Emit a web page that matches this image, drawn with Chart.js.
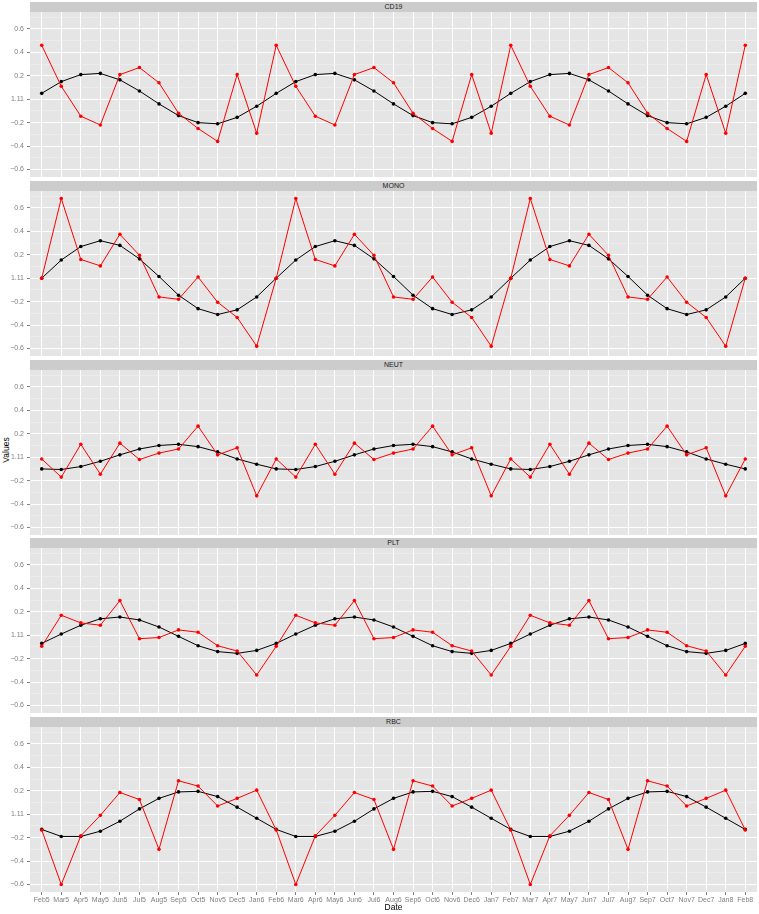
<!DOCTYPE html>
<html>
<head>
<meta charset="utf-8">
<script src="https://cdn.jsdelivr.net/npm/chart.js@4.4.1/dist/chart.umd.min.js"></script>
<style>
  html, body { margin: 0; padding: 0; background: #fff; }
  body { width: 759px; height: 914px; position: relative; overflow: hidden; font-family: "Liberation Sans", Arial, sans-serif; }
  .strip { position: absolute; left: 30px; width: 727px; height: 10.5px; background: #cccccc; color: #1a1a1a; font-size: 7px; line-height: 10.5px; text-align: center; }
  canvas { position: absolute; left: 0; }
  #ylab { position: absolute; left: 6px; top: 450px; transform: translate(-50%, -50%) rotate(-90deg); font-size: 8.5px; color: #000; white-space: nowrap; }
</style>
</head>
<body>
<div id="ylab">Values</div>

<script>
// x categories
const dates = ['Feb5','Mar5','Apr5','May5','Jun5','Jul5','Aug5','Sep5','Oct5','Nov5','Dec5','Jan6',
               'Feb6','Mar6','Apr6','May6','Jun6','Jul6','Aug6','Sep6','Oct6','Nov6','Dec6','Jan7',
               'Feb7','Mar7','Apr7','May7','Jun7','Jul7','Aug7','Sep7','Oct7','Nov7','Dec7','Jan8','Feb8'];

// y ticks (the 0 line is labelled "1.11" in the original)
const yMajorTicks = [-0.6, -0.4, -0.2, 0, 0.2, 0.4, 0.6];
const yMajorLabels = ['\u22120.6', '\u22120.4', '\u22120.2', '1.11', '0.2', '0.4', '0.6'];
const yMinorTicks = [-0.5, -0.3, -0.1, 0.1, 0.3, 0.5, 0.7];

const panelNames = ['CD19', 'MONO', 'NEUT', 'PLT', 'RBC'];

// red series
const cd19Red = [0.46,0.11,-0.145,-0.22,0.21,0.27,0.14,-0.12,-0.25,-0.36,0.21,-0.29,
                 0.46,0.11,-0.145,-0.22,0.21,0.27,0.14,-0.12,-0.25,-0.36,0.21,-0.29,
                 0.46,0.11,-0.145,-0.22,0.21,0.27,0.14,-0.12,-0.25,-0.36,0.21,-0.29,0.46];
const monoRed = [0,0.68,0.16,0.105,0.375,0.195,-0.16,-0.18,0.01,-0.205,-0.335,-0.58,
                 0,0.68,0.16,0.105,0.375,0.195,-0.16,-0.18,0.01,-0.205,-0.335,-0.58,
                 0,0.68,0.16,0.105,0.375,0.195,-0.16,-0.18,0.01,-0.205,-0.335,-0.58,0];
const neutRed = [-0.015,-0.17,0.11,-0.145,0.12,-0.02,0.035,0.07,0.265,0.02,0.08,-0.33,
                 -0.015,-0.17,0.11,-0.145,0.12,-0.02,0.035,0.07,0.265,0.02,0.08,-0.33,
                 -0.015,-0.17,0.11,-0.145,0.12,-0.02,0.035,0.07,0.265,0.02,0.08,-0.33,-0.015];
const pltRed = [-0.095,0.17,0.105,0.085,0.295,-0.03,-0.02,0.045,0.025,-0.09,-0.135,-0.34,
                -0.095,0.17,0.105,0.085,0.295,-0.03,-0.02,0.045,0.025,-0.09,-0.135,-0.34,
                -0.095,0.17,0.105,0.085,0.295,-0.03,-0.02,0.045,0.025,-0.09,-0.135,-0.34,-0.095];
const rbcRed = [-0.135,-0.6,-0.185,-0.01,0.185,0.125,-0.3,0.285,0.24,0.07,0.135,0.205,
                -0.135,-0.6,-0.185,-0.01,0.185,0.125,-0.3,0.285,0.24,0.07,0.135,0.205,
                -0.135,-0.6,-0.185,-0.01,0.185,0.125,-0.3,0.285,0.24,0.07,0.135,0.205,-0.135];

// black series
const cd19Black = [0.05,0.15,0.21,0.22,0.165,0.07,-0.04,-0.14,-0.2,-0.21,-0.155,-0.06,
                   0.05,0.15,0.21,0.22,0.165,0.07,-0.04,-0.14,-0.2,-0.21,-0.155,-0.06,
                   0.05,0.15,0.21,0.22,0.165,0.07,-0.04,-0.14,-0.2,-0.21,-0.155,-0.06,0.05];
const monoBlack = [0,0.155,0.27,0.32,0.28,0.165,0.015,-0.145,-0.26,-0.31,-0.27,-0.16,
                   0,0.155,0.27,0.32,0.28,0.165,0.015,-0.145,-0.26,-0.31,-0.27,-0.16,
                   0,0.155,0.27,0.32,0.28,0.165,0.015,-0.145,-0.26,-0.31,-0.27,-0.16,0];
const neutBlack = [-0.1,-0.105,-0.08,-0.035,0.02,0.07,0.1,0.11,0.09,0.045,-0.015,-0.06,
                   -0.1,-0.105,-0.08,-0.035,0.02,0.07,0.1,0.11,0.09,0.045,-0.015,-0.06,
                   -0.1,-0.105,-0.08,-0.035,0.02,0.07,0.1,0.11,0.09,0.045,-0.015,-0.06,-0.1];
const pltBlack = [-0.07,0.01,0.085,0.14,0.155,0.13,0.07,-0.01,-0.09,-0.14,-0.155,-0.13,
                  -0.07,0.01,0.085,0.14,0.155,0.13,0.07,-0.01,-0.09,-0.14,-0.155,-0.13,
                  -0.07,0.01,0.085,0.14,0.155,0.13,0.07,-0.01,-0.09,-0.14,-0.155,-0.13,-0.07];
const rbcBlack = [-0.13,-0.19,-0.19,-0.145,-0.06,0.045,0.135,0.19,0.195,0.15,0.06,-0.035,
                  -0.13,-0.19,-0.19,-0.145,-0.06,0.045,0.135,0.19,0.195,0.15,0.06,-0.035,
                  -0.13,-0.19,-0.19,-0.145,-0.06,0.045,0.135,0.19,0.195,0.15,0.06,-0.035,-0.13];

const redSeries = [cd19Red, monoRed, neutRed, pltRed, rbcRed];
const blackSeries = [cd19Black, monoBlack, neutBlack, pltBlack, rbcBlack];

const FONT = '"Liberation Sans", Arial, sans-serif';

// grey panel background
const panelBg = {
    id: 'panelBg',
    beforeDraw(chart) {
        const { ctx, chartArea: a } = chart;
        ctx.save();
        ctx.fillStyle = '#e5e5e5';
        ctx.fillRect(a.left, a.top, a.right - a.left, a.bottom - a.top);
        ctx.restore();
    }
};

function isMajor(v) {
    return Math.abs(Math.round(v * 10)) % 2 === 0;
}

function toPoints(arr) {
    return arr.map((v, i) => ({ x: i, y: v }));
}

// drop the label overhang padding chart.js adds, so the plot area fills the canvas
function noOverhang(axis) {
    axis.paddingTop = 0;
    axis.paddingBottom = 0;
    axis.paddingLeft = 0;
    axis.paddingRight = 0;
}

function makePanel(k) {
    const isLast = k === panelNames.length - 1;
    const plotTop = Math.round(12 + 178.75 * k);
    const plotHeight = 165;

    const strip = document.createElement('div');
    strip.className = 'strip';
    strip.style.top = (plotTop - 10.5) + 'px';
    strip.textContent = panelNames[k];
    document.body.appendChild(strip);

    const canvas = document.createElement('canvas');
    canvas.width = 759;
    canvas.height = plotHeight + (isLast ? 22 : 0);
    canvas.style.top = plotTop + 'px';
    document.body.appendChild(canvas);

    new Chart(canvas.getContext('2d'), {
        type: 'line',
        data: {
            datasets: [{
                data: toPoints(redSeries[k]),
                borderColor: '#ff0000',
                backgroundColor: '#ff0000',
                borderWidth: 1,
                pointRadius: 1.8,
                pointBorderWidth: 0,
                tension: 0
            }, {
                data: toPoints(blackSeries[k]),
                borderColor: '#000000',
                backgroundColor: '#000000',
                borderWidth: 1,
                pointRadius: 1.8,
                pointBorderWidth: 0,
                tension: 0
            }]
        },
        options: {
            responsive: false,
            devicePixelRatio: 1,
            animation: false,
            layout: { autoPadding: false, padding: { left: 0, right: 2, top: 0, bottom: 0 } },
            plugins: {
                legend: { display: false },
                tooltip: { enabled: false }
            },
            scales: {
                x: {
                    type: 'linear',
                    min: -0.6,
                    max: 36.6,
                    afterBuildTicks: axis => { axis.ticks = dates.map((d, i) => ({ value: i })); },
                    afterFit: axis => {
                        axis.height = isLast ? 22 : 0;
                        noOverhang(axis);
                    },
                    border: { display: false },
                    grid: {
                        color: '#ffffff',
                        lineWidth: 1,
                        drawTicks: isLast,
                        tickLength: 3,
                        tickColor: '#7f7f7f'
                    },
                    ticks: {
                        display: isLast,
                        autoSkip: false,
                        maxRotation: 0,
                        padding: 1,
                        color: '#7f7f7f',
                        font: { family: FONT, size: 7 },
                        callback: v => dates[v]
                    },
                    title: {
                        display: isLast,
                        text: 'Date',
                        color: '#000000',
                        font: { family: FONT, size: 8.5 },
                        padding: { top: 0, bottom: 1 }
                    }
                },
                y: {
                    type: 'linear',
                    min: -0.664,
                    max: 0.744,
                    afterBuildTicks: axis => {
                        axis.ticks = yMajorTicks.concat(yMinorTicks).sort((a, b) => a - b).map(v => ({ value: v }));
                    },
                    afterFit: axis => {
                        axis.width = 30;
                        noOverhang(axis);
                    },
                    border: { display: false },
                    grid: {
                        color: ctx => isMajor(ctx.tick.value) ? '#ffffff' : '#f0f0f0',
                        lineWidth: ctx => isMajor(ctx.tick.value) ? 1 : 0.6,
                        tickLength: 3,
                        tickColor: ctx => isMajor(ctx.tick.value) ? '#7f7f7f' : 'rgba(0,0,0,0)'
                    },
                    ticks: {
                        autoSkip: false,
                        padding: 3,
                        color: '#7f7f7f',
                        font: { family: FONT, size: 7 },
                        callback: v => {
                            const idx = yMajorTicks.findIndex(t => Math.abs(t - v) < 1e-6);
                            return idx >= 0 ? yMajorLabels[idx] : '';
                        }
                    }
                }
            }
        },
        plugins: [panelBg]
    });
}

panelNames.forEach((name, k) => makePanel(k));
</script>
</body>
</html>
